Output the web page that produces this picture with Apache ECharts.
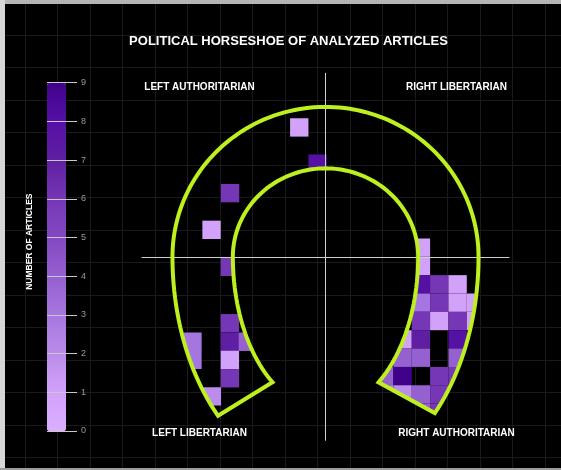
<!DOCTYPE html>
<html>
<head>
<meta charset="utf-8">
<script src="https://cdn.jsdelivr.net/npm/echarts@6/dist/echarts.min.js"></script>
<style>
html, body { margin: 0; padding: 0; background: #000; }
#chart { width: 561px; height: 470px; }
</style>
</head>
<body>
<div id="chart"></div>
<script>
// one square per bin: centre on the compass (x = left/right, y = up/down) and article count
const cellX = [-1.43, -0.43, -5.2, -6.21, -5.21, -7.25, -7.25, -5.21, -5.21, -5.21, -5.21, -4.23, -6.19,
  5.2, 5.2, 5.2, 6.2, 7.2, 5.2, 6.2, 7.2, 8.2, 5.2, 6.2, 7.2, 8.2, 4.2, 5.2, 7.2,
  4.2, 5.2, 7.2, 3.2, 4.2, 6.2, 7.2, 3.2, 4.2, 5.2, 6.2, 5.2, 6.2]
const cellY = [7.05, 5.08, 3.47, 1.47, -0.54, -4.63, -5.62, -3.62, -4.63, -5.62, -6.62, -4.63, -7.61,
  0.5, -0.5, -1.5, -1.5, -1.5, -2.5, -2.5, -2.5, -2.5, -3.5, -3.5, -3.5, -3.5, -4.5, -4.5, -4.5,
  -5.5, -5.5, -5.5, -6.5, -6.5, -6.5, -6.5, -7.5, -7.5, -7.5, -7.5, -8.5, -8.5]
const cellCount = [1, 8, 6, 1, 6, 3, 3, 6, 7, 1, 6, 4, 2,
  1, 1, 8, 6, 1, 3, 6, 1, 1, 6, 1, 6, 1, 1, 7, 8,
  4, 4, 4, 4, 9, 6, 6, 2, 2, 4, 6, 4, 6]

const countMin = 0
const countMax = 9
const chartTitle = 'POLITICAL HORSESHOE OF ANALYZED ARTICLES'
const legendTitle = 'NUMBER OF ARTICLES'
const quadrants = ['LEFT AUTHORITARIAN', 'RIGHT LIBERTARIAN', 'LEFT LIBERTARIAN', 'RIGHT AUTHORITARIAN']

// horseshoe outline, in compass units (top half round, legs stretched downwards)
const shoe = {
  outerRx: 8.34, outerTop: 8.17, outerBottom: 12.17,
  innerRx: 5.05, innerTop: 4.82, innerBottom: 8.34,
  outerFrom: 225.4, outerTo: -44.4, innerFrom: -55.1, innerTo: 235.1
}

function arc(rx, top, bottom, from, to, pts){
  const steps = 140
  for(let i=0;i<=steps;i++){
    const t = (from + (to-from)*i/steps) * Math.PI/180
    const s = Math.sin(t)
    pts.push([rx*Math.cos(t), s*(s>=0 ? top : bottom)])
  }
}
function shoePoints(){
  const pts = []
  arc(shoe.outerRx, shoe.outerTop, shoe.outerBottom, shoe.outerFrom, shoe.outerTo, pts)
  arc(shoe.innerRx, shoe.innerTop, shoe.innerBottom, shoe.innerFrom, shoe.innerTo, pts)
  return pts
}

// cut the horseshoe polygon down to one cell rectangle (Sutherland-Hodgman)
function clipToRect(poly, x0, y0, x1, y1){
  const sides = [
    [p => p[0] >= x0, (a,b) => [x0, a[1] + (x0-a[0])/(b[0]-a[0])*(b[1]-a[1])]],
    [p => p[0] <= x1, (a,b) => [x1, a[1] + (x1-a[0])/(b[0]-a[0])*(b[1]-a[1])]],
    [p => p[1] >= y0, (a,b) => [a[0] + (y0-a[1])/(b[1]-a[1])*(b[0]-a[0]), y0]],
    [p => p[1] <= y1, (a,b) => [a[0] + (y1-a[1])/(b[1]-a[1])*(b[0]-a[0]), y1]]
  ]
  let out = poly
  for(const [inside, cross] of sides){
    const input = out
    out = []
    for(let i=0;i<input.length;i++){
      const cur = input[i], prev = input[(i+input.length-1)%input.length]
      if(inside(cur)){
        if(!inside(prev)) out.push(cross(prev,cur))
        out.push(cur)
      }else if(inside(prev)){
        out.push(cross(prev,cur))
      }
    }
    if(!out.length) break
  }
  return out
}

const font = '"Liberation Sans", Arial, sans-serif'
const chart = echarts.init(document.getElementById('chart'))

function label(text, x, y, size, extra){
  return Object.assign({ type: 'text', x: x, y: y, z: 20,
    style: { text: text, fill: '#fff', font: 'bold ' + size + 'px ' + font, align: 'center', verticalAlign: 'middle' } }, extra)
}

const option = {
  backgroundColor: '#000',
  animation: false,
  grid: [
    // compass
    { left: 142, top: 73.3, width: 367, height: 367, outerBoundsMode: 'none' },
    // faint background paper
    { left: -7.5, top: 2.5, width: 585, height: 487.5, outerBoundsMode: 'none' },
    // colour bar ticks
    { left: 47, top: 82.7, width: 30, height: 348.3, outerBoundsMode: 'none' }
  ],
  xAxis: [
    { gridIndex: 0, type: 'value', min: -10, max: 10, z: 3,
      axisLine: { onZero: true, lineStyle: { color: '#cfcfcf', width: 1 } },
      axisTick: { show: false }, axisLabel: { show: false }, splitLine: { show: false } },
    { gridIndex: 1, type: 'value', min: 0, max: 18, interval: 1,
      axisLine: { show: false }, axisTick: { show: false }, axisLabel: { show: false },
      splitLine: { show: true, lineStyle: { color: '#1a1a1a', width: 1 } } },
    { gridIndex: 2, type: 'value', show: false }
  ],
  yAxis: [
    { gridIndex: 0, type: 'value', min: -10, max: 10, z: 3,
      axisLine: { onZero: true, lineStyle: { color: '#cfcfcf', width: 1 } },
      axisTick: { show: false }, axisLabel: { show: false }, splitLine: { show: false } },
    { gridIndex: 1, type: 'value', min: 0, max: 15, interval: 1,
      axisLine: { show: false }, axisTick: { show: false }, axisLabel: { show: false },
      splitLine: { show: true, lineStyle: { color: '#1a1a1a', width: 1 } } },
    { gridIndex: 2, type: 'value', min: countMin, max: countMax, interval: 1, position: 'right', z: 6,
      axisLine: { show: false }, axisTick: { show: false },
      axisLabel: { color: '#9a9a9a', fontSize: 9, fontFamily: font, margin: 4 },
      splitLine: { show: true, lineStyle: { color: '#c8c8c8', width: 1 } } }
  ],
  visualMap: {
    type: 'continuous',
    seriesIndex: 0,
    dimension: 2,
    min: countMin,
    max: countMax,
    orient: 'vertical',
    left: 47,
    top: 82.7,
    padding: 0,
    itemWidth: 19,
    itemHeight: 348.3,
    calculable: false,
    hoverLink: false,
    text: null,
    inRange: { color: ['#dcaeff', '#d2a2fa', '#bb8ceb', '#a676e0', '#9560d0', '#8448c2', '#7637b6', '#5f1fa2', '#5510a4', '#40028a'] }
  },
  series: [
    {
      type: 'custom',
      xAxisIndex: 0,
      yAxisIndex: 0,
      z: 2,
      silent: true,
      encode: { x: 0, y: 1 },
      data: cellX.map((x,i) => [x, cellY[i], cellCount[i]]),
      renderItem(params, api){
        const x = api.value(0), y = api.value(1)
        const a = api.coord([x-0.5, y+0.5])
        const b = api.coord([x+0.5, y-0.5])
        const poly = shoePoints().map(p => api.coord(p))
        const pts = clipToRect(poly, a[0], a[1], b[0], b[1])
        if(pts.length < 3) return null
        return { type: 'polygon', shape: { points: pts }, style: { fill: api.visual('color') } }
      }
    },
    {
      type: 'custom',
      xAxisIndex: 0,
      yAxisIndex: 0,
      z: 5,
      silent: true,
      data: [[0, 0]],
      renderItem(params, api){
        return {
          type: 'polygon',
          shape: { points: shoePoints().map(p => api.coord(p)) },
          style: { fill: 'none', stroke: '#bdf01e', lineWidth: 4, lineJoin: 'miter' }
        }
      }
    }
  ],
  graphic: [
    label(chartTitle, 288.5, 41, 13),
    label(legendTitle, 30, 241.7, 8.5, { rotation: Math.PI/2 }),
    label(quadrants[0], 199.5, 87, 10),
    label(quadrants[1], 456.5, 87, 10),
    label(quadrants[2], 199.5, 433.3, 10),
    label(quadrants[3], 456.5, 433.3, 10),
    // photo frame edges
    { type: 'rect', z: 100, shape: { x: 0, y: 0, width: 561, height: 4 }, style: { fill: '#b4b4b4' } },
    { type: 'rect', z: 100, shape: { x: 0, y: 0, width: 5, height: 470 }, style: { fill: '#d6d6d6' } },
    { type: 'rect', z: 100, shape: { x: 0, y: 468, width: 561, height: 2 }, style: { fill: '#9c9c9c' } }
  ]
}

chart.setOption(option)
</script>
</body>
</html>
